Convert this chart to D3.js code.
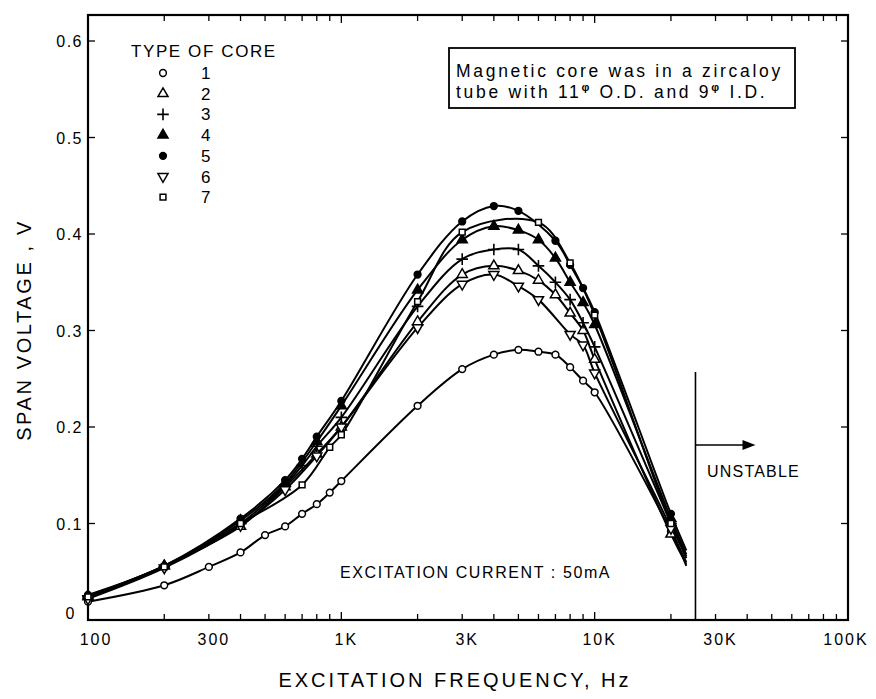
<!DOCTYPE html>
<html>
<head>
<meta charset="utf-8">
<script src="https://cdn.jsdelivr.net/npm/d3@7"></script>
<style>
  html, body { margin: 0; padding: 0; background: #fff; }
  svg { display: block; }
  text { font-family: "Liberation Sans", Arial, sans-serif; fill: #000; }
</style>
</head>
<body>
<svg id="chart" width="876" height="699"></svg>
<script>
// ---- data ----
const coreTypes = ["1", "2", "3", "4", "5", "6", "7"];
const markerKinds = ["circleOpen", "triUpOpen", "plus", "triUpFilled", "circleFilled", "triDownOpen", "squareOpen"];

// each series: [frequency Hz, span voltage V]
const core1 = [[100,0.019],[200,0.036],[300,0.055],[400,0.070],[500,0.088],[600,0.097],[700,0.110],[800,0.120],[900,0.132],[1000,0.144],[2000,0.222],[3000,0.260],[4000,0.275],[5000,0.280],[6000,0.278],[7000,0.275],[8000,0.262],[9000,0.248],[10000,0.236],[20000,0.092]];
const core2 = [[100,0.024],[200,0.056],[400,0.097],[600,0.138],[800,0.172],[1000,0.200],[2000,0.309],[3000,0.358],[4000,0.367],[5000,0.362],[6000,0.352],[7000,0.337],[8000,0.318],[9000,0.300],[10000,0.270],[20000,0.089]];
const core3 = [[100,0.024],[200,0.055],[400,0.100],[600,0.140],[700,0.160],[800,0.180],[1000,0.210],[2000,0.325],[3000,0.374],[4000,0.384],[5000,0.384],[6000,0.367],[7000,0.350],[8000,0.332],[9000,0.308],[10000,0.283],[20000,0.100]];
const core4 = [[100,0.025],[200,0.056],[400,0.103],[600,0.142],[800,0.185],[1000,0.222],[2000,0.342],[3000,0.394],[4000,0.408],[5000,0.404],[6000,0.394],[7000,0.375],[8000,0.350],[9000,0.329],[10000,0.306],[20000,0.105]];
const core5 = [[100,0.026],[200,0.056],[400,0.105],[600,0.145],[700,0.167],[800,0.190],[1000,0.227],[2000,0.358],[3000,0.413],[4000,0.429],[5000,0.424],[7000,0.393],[8000,0.368],[9000,0.344],[10000,0.319],[20000,0.110]];
const core6 = [[100,0.022],[200,0.054],[400,0.098],[600,0.135],[800,0.170],[1000,0.200],[2000,0.303],[3000,0.348],[4000,0.358],[5000,0.346],[6000,0.332],[8000,0.296],[9000,0.285],[10000,0.256],[20000,0.095]];
const core7 = [[100,0.024],[200,0.055],[400,0.100],[700,0.140],[900,0.179],[1000,0.192],[2000,0.330],[3000,0.402],[6000,0.412],[8000,0.370],[10000,0.316],[20000,0.100]];
// line continues past last measured point (no marker)
const tailFreq = 23000;
const tailValues = [0.060, 0.058, 0.064, 0.068, 0.072, 0.056, 0.066];

const xTickValues = [100, 300, 1000, 3000, 10000, 30000, 100000];
const xTickLabels = ["100", "300", "1K", "3K", "10K", "30K", "100K"];
const yTickValues = [0, 0.1, 0.2, 0.3, 0.4, 0.5, 0.6];
const yTickLabels = ["0", "0.1", "0.2", "0.3", "0.4", "0.5", "0.6"];

const unstableFreq = 25000;

// ---- layout ----
const svg = d3.select("#chart");
const L = 88, R = 848, T = 15, B = 620;
const x = d3.scaleLog().domain([100, 100000]).range([L, R]);
const y = d3.scaleLinear().domain([0, 0.6]).range([B, B - 0.6 * 965]);

const allSeries = [core1, core2, core3, core4, core5, core6, core7];

// frame
svg.append("rect").attr("x", L).attr("y", T).attr("width", R - L).attr("height", B - T)
  .attr("fill", "none").attr("stroke", "#000").attr("stroke-width", 2.2);

// x ticks (inward), minor ticks too
const minor = [];
for (let d = 100; d < 100000; d *= 10) for (let k = 2; k <= 9; k++) minor.push(d * k);
const gx = svg.append("g");
minor.forEach(v => {
  gx.append("line").attr("x1", x(v)).attr("x2", x(v)).attr("y1", B).attr("y2", B - 6).attr("stroke", "#000").attr("stroke-width", 1.3);
  gx.append("line").attr("x1", x(v)).attr("x2", x(v)).attr("y1", T).attr("y2", T + 6).attr("stroke", "#000").attr("stroke-width", 1.3);
});
[1000, 10000].forEach(v => {
  gx.append("line").attr("x1", x(v)).attr("x2", x(v)).attr("y1", B).attr("y2", B - 8).attr("stroke", "#000").attr("stroke-width", 1.3);
  gx.append("line").attr("x1", x(v)).attr("x2", x(v)).attr("y1", T).attr("y2", T + 8).attr("stroke", "#000").attr("stroke-width", 1.3);
});
xTickValues.forEach((v, i) => {
  gx.append("text").attr("x", x(v) + (i === 0 ? 8 : (i === xTickValues.length - 1 ? -2 : 5))).attr("y", 645)
    .attr("text-anchor", "middle").attr("font-size", 16).attr("letter-spacing", 2).text(xTickLabels[i]);
});

// y ticks
const gy = svg.append("g");
yTickValues.forEach((v, i) => {
  if (v > 0) {
    gy.append("line").attr("x1", L).attr("x2", L + 7).attr("y1", y(v)).attr("y2", y(v)).attr("stroke", "#000").attr("stroke-width", 1.3);
    gy.append("line").attr("x1", R).attr("x2", R - 7).attr("y1", y(v)).attr("y2", y(v)).attr("stroke", "#000").attr("stroke-width", 1.3);
  }
  gy.append("text").attr("x", i === 0 ? 76 : 83).attr("y", y(v) + (i === 0 ? -1 : 6))
    .attr("text-anchor", "end").attr("font-size", 16).attr("letter-spacing", 1.5).text(yTickLabels[i]);
});

// axis titles
svg.append("text").attr("x", 455).attr("y", 687).attr("text-anchor", "middle")
  .attr("font-size", 20).attr("letter-spacing", 3).text("EXCITATION  FREQUENCY,  Hz");
svg.append("text").attr("transform", "translate(31,330) rotate(-90)").attr("text-anchor", "middle")
  .attr("font-size", 20).attr("letter-spacing", 2.6).text("SPAN  VOLTAGE ,  V");

// curves
const line = d3.line().x(d => x(d[0])).y(d => y(d[1])).curve(d3.curveCatmullRom.alpha(0.5));
allSeries.forEach((s, i) => {
  const pts = s.concat([[tailFreq, tailValues[i]]]);
  svg.append("path").attr("d", line(pts)).attr("fill", "none").attr("stroke", "#000").attr("stroke-width", 2);
});

// markers
function drawMarker(g, kind, cx, cy) {
  const open = kind.endsWith("Open");
  const fill = open ? "#fff" : "#000";
  let sym, rot = 0, size = 42;
  if (kind.startsWith("circle")) { sym = d3.symbolCircle; size = 36; }
  else if (kind.startsWith("triUp")) { sym = d3.symbolTriangle; size = 44; }
  else if (kind.startsWith("triDown")) { sym = d3.symbolTriangle; size = 44; rot = 180; }
  else if (kind.startsWith("square")) { sym = d3.symbolSquare; size = 34; }
  else if (kind === "plus") { sym = d3.symbolPlus; size = 46; }
  const p = g.append("path").attr("d", d3.symbol(sym, size)())
    .attr("transform", `translate(${cx},${cy}) rotate(${rot})`);
  if (kind === "plus") p.attr("fill", "none").attr("stroke", "#000").attr("stroke-width", 1.6);
  else p.attr("fill", fill).attr("stroke", "#000").attr("stroke-width", 1.5);
}
const gm = svg.append("g");
allSeries.forEach((s, i) => {
  s.forEach(d => drawMarker(gm, markerKinds[i], x(d[0]), y(d[1])));
});

// legend
const gl = svg.append("g");
gl.append("text").attr("x", 131).attr("y", 57).attr("font-size", 17).attr("letter-spacing", 1.6).text("TYPE  OF  CORE");
coreTypes.forEach((c, i) => {
  const yy = 73 + i * 20.7;
  drawMarker(gl, markerKinds[i], 163, yy);
  gl.append("text").attr("x", 201).attr("y", yy + 6).attr("font-size", 17).text(c);
});

// note box
const gb = svg.append("g");
gb.append("rect").attr("x", 449).attr("y", 48).attr("width", 346).attr("height", 60)
  .attr("fill", "#fff").attr("stroke", "#000").attr("stroke-width", 1.8);
gb.append("text").attr("x", 456).attr("y", 77).attr("font-size", 17.5).attr("letter-spacing", 2.7)
  .text("Magnetic  core  was  in  a  zircaloy");
const t2 = gb.append("text").attr("x", 456).attr("y", 98).attr("font-size", 17.5).attr("letter-spacing", 2.7);
t2.append("tspan").text("tube  with  11");
t2.append("tspan").attr("dy", -7).attr("font-size", 11).attr("font-weight", "bold").text("φ");
t2.append("tspan").attr("dy", 7).text(" O.D.  and  9");
t2.append("tspan").attr("dy", -7).attr("font-size", 11).attr("font-weight", "bold").text("φ");
t2.append("tspan").attr("dy", 7).text("  I.D.");

// excitation current
svg.append("text").attr("x", 340).attr("y", 578).attr("font-size", 16).attr("letter-spacing", 1.6)
  .text("EXCITATION  CURRENT : 50mA");

// unstable marker
const ux = x(unstableFreq);
svg.append("line").attr("x1", ux).attr("x2", ux).attr("y1", 372).attr("y2", B)
  .attr("stroke", "#000").attr("stroke-width", 1.6);
svg.append("line").attr("x1", ux).attr("x2", ux + 50).attr("y1", 445).attr("y2", 445)
  .attr("stroke", "#000").attr("stroke-width", 1.6);
svg.append("path").attr("d", `M${ux + 60},445 L${ux + 47},440 L${ux + 47},450 Z`).attr("fill", "#000");
svg.append("text").attr("x", 707).attr("y", 477).attr("font-size", 16).attr("letter-spacing", 1.2)
  .text("UNSTABLE");
</script>
</body>
</html>
